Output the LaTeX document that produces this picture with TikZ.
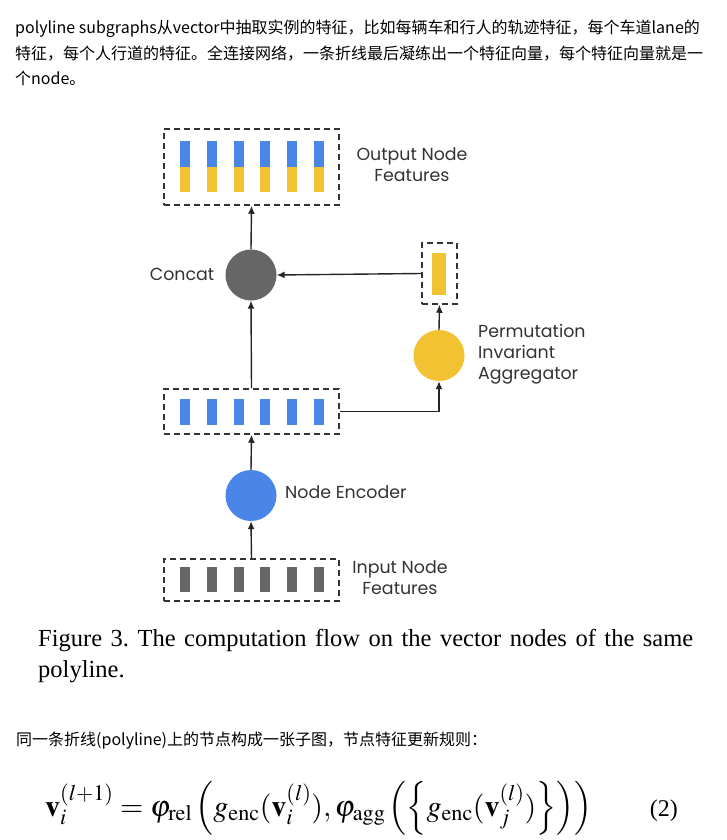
\documentclass[tikz,border=0pt]{standalone}
\usepackage{mathptmx}
\usepackage{fontspec}
\setmainfont{Liberation Serif}
\newfontfamily\cjk{Noto Sans CJK SC}
\newfontfamily\diagfont{Poppins}
\usetikzlibrary{arrows.meta}

\definecolor{encblue}{HTML}{4A86E8}
\definecolor{aggyellow}{HTML}{F1C232}
\definecolor{concatgray}{HTML}{666666}
\definecolor{dashgray}{HTML}{333333}

\tikzset{
  featbox/.style={draw=dashgray, line width=1.5pt, dash pattern=on 6pt off 4pt,
    minimum width=175pt, inner sep=0pt},
  opnode/.style={circle, minimum size=51pt, inner sep=0pt},
  flow/.style={line width=1.4pt, draw=black!85, -{Latex[length=8pt,width=7pt]}},
  lbl/.style={font=\diagfont\fontsize{17.4}{21}\selectfont, text=black!80, inner sep=0pt},
  cjktext/.style={font=\cjk\fontsize{16}{20}\selectfont, anchor=base west, inner sep=0pt},
}

\begin{document}
\frenchspacing
\begin{tikzpicture}[x=1pt, y=-1pt]
    \fill[white] (0,0) rectangle (727,840);
    \useasboundingbox (0,0) rectangle (727,840);

    % text above the figure
    \node[cjktext] (para1) at (15,34) {polyline subgraphs从vector中抽取实例的特征，比如每辆车和行人的轨迹特征，每个车道lane的};
    \node[cjktext] (para2) at (15,59.5) {特征，每个人行道的特征。全连接网络，一条折线最后凝练出一个特征向量，每个特征向量就是一};
    \node[cjktext] (para3) at (15,85) {个node。};

    % output node features
    \node[featbox, minimum height=76pt] (outbox) at (251.5,167) {};
    \foreach \i in {0,...,5} {
        \fill[encblue] ({252+26.7*(\i-2.5)-5},141) rectangle +(10,26);
        \fill[aggyellow] ({252+26.7*(\i-2.5)-5},167) rectangle +(10,25);
    }
    \node[lbl, align=center] (outlbl) at (412,164.5) {Output Node\\Features};

    % concat
    \node[opnode, fill=concatgray] (concat) at (251,275) {};
    \node[lbl] (concatlbl) at (182,274) {Concat};

    % aggregated feature
    \node[featbox, minimum width=35pt, minimum height=61pt] (aggbox) at (439.5,273.5) {};
    \fill[aggyellow] (432,253) rectangle (446,295);

    % aggregator
    \node[opnode, fill=aggyellow] (agg) at (439,355.5) {};
    \node[lbl, align=left, anchor=west] (agglbl) at (478,354) {Permutation\\Invariant\\Aggregator};

    % encoded node features
    \node[featbox, minimum height=45pt] (midbox) at (251.5,411.5) {};
    \foreach \i in {0,...,5}
        \fill[encblue] ({252+26.7*(\i-2.5)-5},399) rectangle +(10,26);

    % node encoder
    \node[opnode, fill=encblue] (enc) at (251,495.5) {};
    \node[lbl, anchor=west] (enclbl) at (285,492) {Node Encoder};

    % input node features
    \node[featbox, minimum height=42pt] (inbox) at (251.5,580) {};
    \foreach \i in {0,...,5}
        \fill[concatgray] ({252+26.7*(\i-2.5)-5},567) rectangle +(10,25);
    \node[lbl, align=center] (inlbl) at (400,577.5) {Input Node\\Features};

    % flow
    \draw[flow] (inbox.north) -- (enc.south);
    \draw[flow] (enc.north) -- (midbox.south);
    \draw[flow] (midbox.north) -- (concat.south);
    \draw[flow] (concat.north) -- (outbox.south);
    \draw[flow] (midbox.east) -| (agg.south);
    \draw[flow] (agg.north) -- (aggbox.south);
    \draw[flow] (aggbox.west) -- (concat.east);

    % caption
    \node[anchor=base west, inner sep=0pt, font=\fontsize{24.5}{31}\selectfont] (cap1) at (38,646)
        {\makebox[655pt][s]{Figure 3. The computation flow on the vector nodes of the same}};
    \node[anchor=base west, inner sep=0pt, font=\fontsize{24.5}{31}\selectfont] (cap2) at (38,677) {polyline.};

    % text below the figure
    \node[cjktext] (para4) at (16,745) {同一条折线(polyline)上的节点构成一张子图，节点特征更新规则：};

    % equation (2)
    \node[anchor=base west, inner sep=0pt, font=\fontsize{30}{34}\selectfont] (eq) at (45,816)
        {$\displaystyle \mathbf{v}_i^{(l+1)} = \varphi_{\mathrm{rel}} \left( g_{\mathrm{enc}}(\mathbf{v}_i^{(l)}), \varphi_{\mathrm{agg}} \left( \left\{ g_{\mathrm{enc}}(\mathbf{v}_j^{(l)}) \right\} \right) \right)$};
    \node[anchor=base east, inner sep=0pt, font=\fontsize{24}{26}\selectfont] (eqnum) at (678,816) {(2)};
\end{tikzpicture}
\end{document}
